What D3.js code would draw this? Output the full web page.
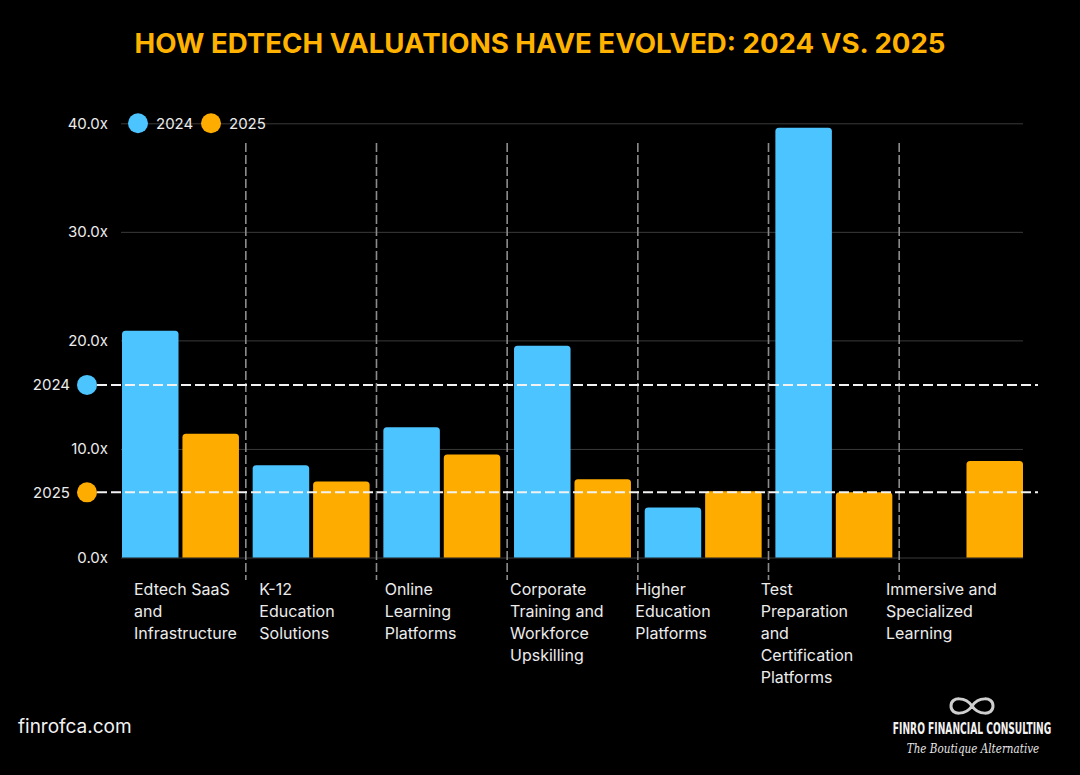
<!DOCTYPE html>
<html>
<head>
<meta charset="utf-8">
<script src="https://cdn.jsdelivr.net/npm/d3@7"></script>
<style>
  html, body { margin: 0; padding: 0; background: #000; }
  svg { display: block; font-family: Inter, "Noto Sans", sans-serif; }
</style>
</head>
<body>
<div id="chart-area"></div>
<script>
// data
var categories = [
  "Edtech SaaS and Infrastructure",
  "K-12 Education Solutions",
  "Online Learning Platforms",
  "Corporate Training and Workforce Upskilling",
  "Higher Education Platforms",
  "Test Preparation and Certification Platforms",
  "Immersive and Specialized Learning"
];
var categoryLabels = [
  ["Edtech SaaS", "and", "Infrastructure"],
  ["K-12", "Education", "Solutions"],
  ["Online", "Learning", "Platforms"],
  ["Corporate", "Training and", "Workforce", "Upskilling"],
  ["Higher", "Education", "Platforms"],
  ["Test", "Preparation", "and", "Certification", "Platforms"],
  ["Immersive and", "Specialized", "Learning"]
];
var series = ["2024", "2025"];
var values2024 = [20.9, 8.5, 12.0, 19.5, 4.6, 39.6, null];
var values2025 = [11.4, 7.0, 9.5, 7.2, 6.1, 6.0, 8.9];
var refValues = [15.9, 6.0];
var yTicks = [0, 10, 20, 30, 40];

var colors = { "2024": "#4bc4ff", "2025": "#ffac00" };

var W = 1080, H = 775;
var plot = { left: 122, right: 1023, top: 123.3, bottom: 557.5 };

var svg = d3.select("#chart-area")
    .append("svg")
    .attr("width", W)
    .attr("height", H);

svg.append("rect").attr("width", W).attr("height", H).attr("fill", "#000");

var x = d3.scaleBand()
    .domain(categories)
    .range([plot.left, plot.right])
    .paddingInner(0.105)
    .paddingOuter(0);

var xSub = d3.scaleBand()
    .domain(series)
    .range([0, x.bandwidth()])
    .paddingInner(0.065);

var y = d3.scaleLinear()
    .domain([0, 40])
    .range([plot.bottom, plot.top]);

var labelX = d3.scalePoint()
    .domain(categories)
    .range([134, 886]);

// title
svg.append("text")
    .attr("x", W / 2)
    .attr("y", 53)
    .attr("text-anchor", "middle")
    .attr("fill", "#ffb300")
    .style("font-size", "27px")
    .style("font-weight", "700")
    .attr("textLength", 811)
    .attr("lengthAdjust", "spacingAndGlyphs")
    .text("HOW EDTECH VALUATIONS HAVE EVOLVED: 2024 VS. 2025");

// gridlines
svg.append("g")
    .attr("class", "grid")
    .attr("transform", "translate(" + (plot.left - 1) + ",0)")
    .call(d3.axisLeft(y).tickValues(yTicks).tickSize(-(plot.right - plot.left + 1)).tickFormat(""))
    .call(function(g) { g.select(".domain").remove(); })
    .selectAll("line")
    .attr("stroke", "#3a3a3a")
    .attr("stroke-width", 1);

// y axis labels
svg.append("g")
    .attr("transform", "translate(" + (plot.left - 1) + ",0)")
    .call(d3.axisLeft(y).tickValues(yTicks).tickSize(0).tickPadding(13)
        .tickFormat(function(d) { return d.toFixed(1) + "x"; }))
    .call(function(g) { g.select(".domain").remove(); })
    .selectAll("text")
    .attr("fill", "#ececec")
    .style("font-family", "Inter, sans-serif")
    .style("font-size", "15px");

// vertical separators between categories
var gap = x.step() - x.bandwidth();
svg.append("g")
    .selectAll("line")
    .data(categories.slice(1))
    .enter().append("line")
    .attr("x1", function(d) { return x(d) - gap / 2; })
    .attr("x2", function(d) { return x(d) - gap / 2; })
    .attr("y1", 143)
    .attr("y2", 580)
    .attr("stroke", "#8c8c8c")
    .attr("stroke-width", 1.6)
    .attr("stroke-dasharray", "9,3");

// bars
function topRounded(x0, y0, w, h, r) {
    r = Math.min(r, h, w / 2);
    return "M" + x0 + "," + (y0 + h) +
        "V" + (y0 + r) +
        "Q" + x0 + "," + y0 + " " + (x0 + r) + "," + y0 +
        "H" + (x0 + w - r) +
        "Q" + (x0 + w) + "," + y0 + " " + (x0 + w) + "," + (y0 + r) +
        "V" + (y0 + h) + "Z";
}

var barData = [];
categories.forEach(function(c, i) {
    barData.push({ cat: c, year: "2024", value: values2024[i] });
    barData.push({ cat: c, year: "2025", value: values2025[i] });
});

svg.append("g")
    .selectAll("path")
    .data(barData.filter(function(d) { return d.value != null; }))
    .enter().append("path")
    .attr("d", function(d) {
        var bx = x(d.cat) + xSub(d.year);
        var by = y(d.value);
        return topRounded(bx, by, xSub.bandwidth(), y(0) - by, 3.5);
    })
    .attr("fill", function(d) { return colors[d.year]; });

// reference lines
var refG = svg.append("g");
series.forEach(function(s, i) {
    var yy = y(refValues[i]);
    refG.append("line")
        .attr("x1", 97)
        .attr("x2", 1038)
        .attr("y1", yy)
        .attr("y2", yy)
        .attr("stroke", "#f2f2f2")
        .attr("stroke-width", 2)
        .attr("stroke-dasharray", "10,4");
    refG.append("circle")
        .attr("cx", 87)
        .attr("cy", yy)
        .attr("r", 10)
        .attr("fill", colors[s]);
    refG.append("text")
        .attr("x", 70)
        .attr("y", yy)
        .attr("dy", "0.35em")
        .attr("text-anchor", "end")
        .attr("fill", "#ececec")
        .style("font-size", "15px")
        .text(s);
});

// legend
var legend = svg.append("g").attr("transform", "translate(138," + y(40) + ")");
series.forEach(function(s, i) {
    var lg = legend.append("g").attr("transform", "translate(" + (i * 73) + ",0)");
    lg.append("circle").attr("r", 10).attr("fill", colors[s]);
    lg.append("text")
        .attr("x", 18)
        .attr("dy", "0.35em")
        .attr("fill", "#ececec")
        .style("font-size", "15px")
        .text(s);
});

// category labels
var labels = svg.append("g")
    .selectAll("text")
    .data(categories)
    .enter().append("text")
    .attr("x", function(d) { return labelX(d); })
    .attr("y", 595)
    .attr("fill", "#ececec")
    .style("font-size", "16px");

labels.each(function(d, i) {
    var t = d3.select(this);
    categoryLabels[i].forEach(function(line, j) {
        t.append("tspan")
            .attr("x", labelX(d))
            .attr("dy", j === 0 ? 0 : 22)
            .text(line);
    });
});

// footer
svg.append("text")
    .attr("x", 18)
    .attr("y", 733)
    .attr("fill", "#f2f2f2")
    .style("font-size", "19px")
    .text("finrofca.com");

var logo = svg.append("g").attr("transform", "translate(972,706)");
logo.append("path")
    .attr("d", "M0,0 C6,-9 21,-10 21,0 C21,10 6,9 0,0 C-6,-9 -21,-10 -21,0 C-21,10 -6,9 0,0")
    .attr("fill", "none")
    .attr("stroke", "#cfcfcf")
    .attr("stroke-width", 3);

svg.append("g")
    .attr("transform", "translate(972,734) scale(0.655,1)")
    .append("text")
    .attr("text-anchor", "middle")
    .attr("fill", "#f2f2f2")
    .style("font-family", "'DejaVu Sans Condensed', 'Liberation Sans Narrow', sans-serif")
    .style("font-size", "15.5px")
    .style("font-weight", "700")
    .text("FINRO FINANCIAL CONSULTING");

svg.append("g")
    .attr("transform", "translate(973,753) scale(0.8,1)")
    .append("text")
    .attr("text-anchor", "middle")
    .attr("fill", "#e6e6e6")
    .style("font-family", "'DejaVu Serif', 'Liberation Serif', serif")
    .style("font-style", "italic")
    .style("font-size", "13px")
    .text("The Boutique Alternative");
</script>
</body>
</html>
